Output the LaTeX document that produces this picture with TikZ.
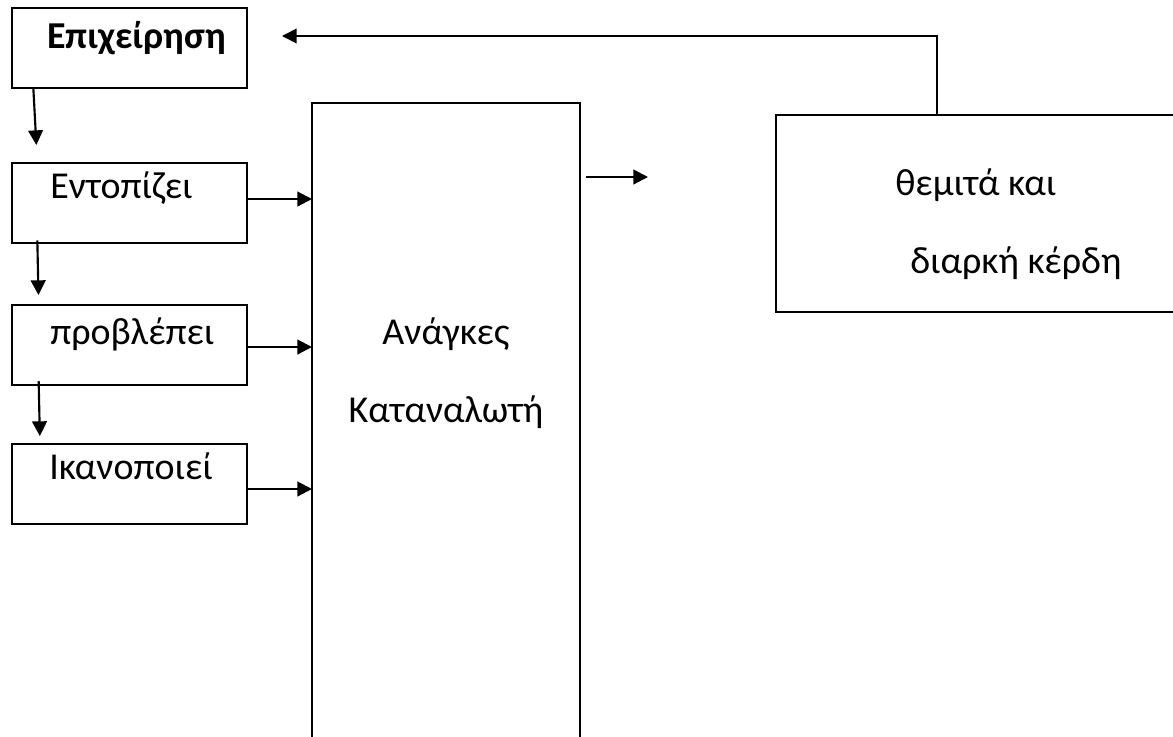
\documentclass[tikz,border=0pt]{standalone}
\usepackage{fontspec}
\setmainfont{Carlito}
\usepackage{tikz}
\usetikzlibrary{arrows.meta,calc,positioning}

\begin{document}
\begin{tikzpicture}[
    x=0.75pt, y=-0.75pt,
    box/.style={draw, line width=2.1pt, inner sep=0pt, outer sep=0pt, minimum width=176.25pt, minimum height=60pt},
    txt/.style={anchor=base west, inner sep=0pt, font=\fontsize{28.5}{34}\selectfont},
    ctxt/.style={anchor=base, inner sep=0pt, font=\fontsize{28.5}{34}\selectfont},
    arr/.style={-{Triangle[length=11pt, width=11pt]}, line width=1.6pt},
    fb/.style={-{Triangle[length=11pt, width=11pt]}, line width=1.3pt}
]
\useasboundingbox (0,0) rectangle (1173,736);
\clip (0,0) rectangle (1173,736);

% left column
\node[box] (epi) at (129.5,48) {};
\node[box] (ent) at (129.5,203) {};
\node[box] (pro) at (129.5,345) {};
\node[box] (ika) at (129.5,484) {};
\node[txt, font=\fontsize{28.5}{34}\selectfont\bfseries] (epit) at (47,48) {Επιχείρηση};
\node[txt] (entt) at (50,198) {Εντοπίζει};
\node[txt] (prot) at (50,344) {προβλέπει};
\node[txt] (ikat) at (49,479) {Ικανοποιεί};

% needs
\node[box, minimum width=201pt, minimum height=500.25pt] (nam) at (446,436.5) {};
\node[ctxt] (namt1) at (446,344) {Ανάγκες};
\node[ctxt] (namt2) at (446,422) {Καταναλωτή};

% profits
\node[box, minimum width=318pt, minimum height=147.75pt] (res) at (988,213.5) {};
\node[txt] (rest1) at (895,195) {θεμιτά και};
\node[txt] (rest2) at (910,273) {διαρκή κέρδη};

\coordinate (out) at (648,177);

\draw[arr, shorten >=13.5pt] ([xshift=16pt]epi.south west) -- ([xshift=19pt]ent.north west);
\draw[arr, shorten >=7.5pt] ([xshift=19pt,yshift=2pt]ent.south west) -- ([xshift=20pt]pro.north west);
\draw[arr, shorten >=6pt] ([xshift=20pt,yshift=3pt]pro.south west) -- ([xshift=21pt]ika.north west);

\draw[arr] ($(ent.east)+(0,-4)$) -- ($(ent.east -| nam.west)+(0,-4)$);
\draw[arr] ($(pro.east)+(0,2)$) -- ($(pro.east -| nam.west)+(0,2)$);
\draw[arr] ($(ika.east)+(0,5)$) -- ($(ika.east -| nam.west)+(0,5)$);

\draw[arr, shorten <=4.5pt] (out -| nam.east) -- (out);
\draw[fb, shorten >=26.25pt] ($(res.north west)+(161,0)$) |- ($(epi.east)+(0,-12)$);
\end{tikzpicture}
\end{document}
